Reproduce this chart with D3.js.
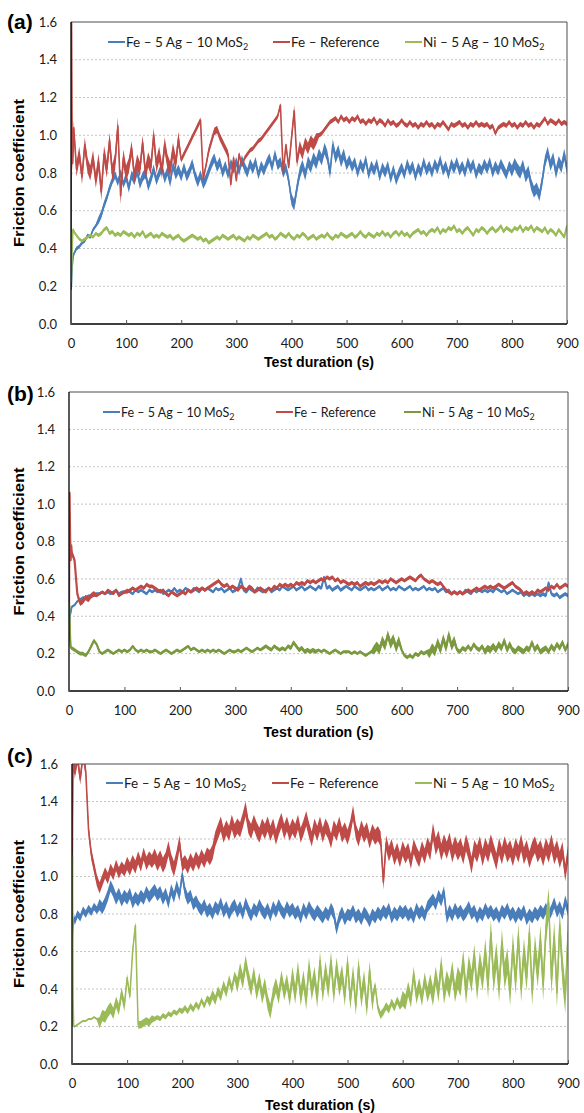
<!DOCTYPE html>
<html>
<head>
<meta charset="utf-8">
<title>Friction coefficient vs test duration</title>
<script src="https://cdn.jsdelivr.net/npm/d3@7"></script>
<style>
  body { margin: 0; background: #fff; }
  svg { display: block; }
  .tick text { font-family: Lato, "Open Sans", sans-serif; font-size: 13px; fill: #1a1a1a; }
  .legend text { font-family: Lato, "Open Sans", sans-serif; fill: #1a1a1a; }
  .panel-label { font-family: "Liberation Sans", Arial, sans-serif; font-weight: bold; font-size: 21px; }
  .axis-title { font-family: "Liberation Sans", Arial, sans-serif; font-weight: bold; font-size: 15px; }
</style>
</head>
<body>
<svg id="chart" width="584" height="1113"></svg>
<script>
// ---- data ----
// traces are sampled every 5 s from 5 s to 900 s; the *Head arrays hold the start-up transient (t < 5 s)
// *Spread = half-width of the noise band seen around each trace, per 50 s segment
const timeStep = 5;
const spreadStep = 50;
const xTicks = [0, 100, 200, 300, 400, 500, 600, 700, 800, 900];
const yTicks = [0, 0.2, 0.4, 0.6, 0.8, 1.0, 1.2, 1.4, 1.6];
const seriesNames = ["Fe – 5 Ag – 10 MoS", "Fe – Reference", "Ni – 5 Ag – 10 MoS"];
const seriesSubs = ["2", "", "2"];

// (a)
const aFeHead = [[0, 0.18], [1, 0.22], [2, 0.30], [3, 0.33], [4, 0.36]];
const aFe = [
  0.37,0.40,0.41,0.43,0.44,0.47,0.46,0.50,0.52,0.55,
  0.58,0.63,0.67,0.72,0.76,0.79,0.75,0.80,0.74,0.78,
  0.72,0.79,0.76,0.81,0.74,0.78,0.80,0.73,0.77,0.82,
  0.76,0.80,0.83,0.77,0.81,0.75,0.84,0.79,0.82,0.78,
  0.83,0.78,0.81,0.85,0.79,0.75,0.79,0.74,0.77,0.81,
  0.85,0.88,0.83,0.86,0.80,0.84,0.79,0.85,0.82,0.86,
  0.81,0.87,0.83,0.80,0.85,0.82,0.86,0.79,0.84,0.81,
  0.85,0.88,0.83,0.90,0.84,0.86,0.80,0.83,0.76,0.66,
  0.63,0.72,0.80,0.84,0.79,0.86,0.83,0.88,0.85,0.90,
  0.87,0.93,0.89,0.80,0.95,0.88,0.92,0.86,0.90,0.84,
  0.87,0.83,0.86,0.80,0.85,0.82,0.87,0.79,0.84,0.81,
  0.85,0.78,0.83,0.80,0.84,0.77,0.82,0.76,0.80,0.83,
  0.79,0.85,0.81,0.84,0.78,0.83,0.80,0.86,0.81,0.84,
  0.80,0.85,0.82,0.87,0.81,0.84,0.79,0.85,0.82,0.86,
  0.81,0.84,0.80,0.86,0.82,0.85,0.79,0.83,0.81,0.85,
  0.82,0.86,0.80,0.84,0.81,0.85,0.82,0.79,0.84,0.81,
  0.85,0.82,0.80,0.84,0.78,0.81,0.74,0.70,0.72,0.68,
  0.76,0.86,0.91,0.84,0.88,0.80,0.86,0.83,0.90,0.82
];
const aFeSpread = [0.01,0.02,0.025,0.025,0.025,0.025,0.025,0.025,0.03,0.03,0.025,0.025,0.025,0.025,0.025,0.025,0.03,0.03];
const aRefHead = [[0, 0.20], [1, 1.60], [2, 1.00], [3, 0.85], [4, 0.92]];
const aRef = [
  1.04,0.82,0.90,0.78,0.95,0.84,0.80,0.88,0.76,0.86,
  0.70,0.90,0.82,0.97,0.80,0.86,1.05,0.68,0.88,0.80,
  0.84,0.93,0.78,0.86,0.82,0.96,0.80,0.87,0.83,1.00,
  0.84,0.90,0.81,0.95,0.86,0.82,0.92,0.85,0.98,0.87,
  0.90,0.93,0.96,0.99,1.02,1.05,1.08,0.77,0.84,0.92,
  0.97,1.02,1.03,0.99,0.96,0.93,0.90,0.74,0.88,0.76,
  0.90,0.84,0.88,0.90,0.92,0.93,0.95,0.97,0.98,1.00,
  1.02,1.04,1.06,1.08,1.10,1.16,0.80,0.95,0.83,0.98,
  1.13,0.86,0.94,0.90,0.96,0.93,0.97,0.95,0.98,1.00,
  1.01,1.03,1.05,1.07,1.08,1.09,1.07,1.10,1.08,1.09,
  1.07,1.09,1.08,1.10,1.07,1.08,1.06,1.08,1.07,1.09,
  1.06,1.08,1.07,1.05,1.08,1.06,1.07,1.05,1.06,1.08,
  1.06,1.05,1.07,1.05,1.06,1.04,1.06,1.05,1.07,1.05,
  1.06,1.04,1.06,1.05,1.07,1.05,1.03,1.06,1.05,1.06,
  1.07,1.05,1.06,1.04,1.06,1.05,1.07,1.05,1.06,1.05,
  1.06,1.04,1.05,1.01,1.04,1.05,1.06,1.05,1.07,1.05,
  1.06,1.04,1.06,1.05,1.07,1.05,1.06,1.04,1.06,1.05,
  1.07,1.09,1.06,1.08,1.07,1.06,1.08,1.06,1.07,1.06
];
const aRefSpread = [0.04,0.045,0.04,0.04,0.015,0.02,0.012,0.012,0.03,0.012,0.012,0.012,0.012,0.012,0.012,0.012,0.012,0.012];
const aNiHead = [[0, 0.22], [1, 0.30], [2, 0.42], [3, 0.49], [4, 0.50]];
const aNi = [
  0.49,0.47,0.45,0.44,0.45,0.46,0.47,0.46,0.48,0.47,
  0.48,0.50,0.51,0.48,0.49,0.47,0.48,0.47,0.49,0.48,
  0.47,0.48,0.46,0.48,0.47,0.49,0.46,0.47,0.48,0.46,
  0.47,0.46,0.48,0.47,0.46,0.47,0.45,0.46,0.47,0.45,
  0.44,0.45,0.46,0.47,0.46,0.45,0.46,0.44,0.45,0.43,
  0.44,0.45,0.46,0.45,0.47,0.46,0.45,0.46,0.47,0.45,
  0.46,0.45,0.44,0.46,0.45,0.47,0.46,0.45,0.46,0.47,
  0.48,0.46,0.47,0.45,0.46,0.48,0.47,0.46,0.48,0.46,
  0.45,0.47,0.46,0.48,0.47,0.45,0.46,0.47,0.45,0.46,
  0.47,0.46,0.48,0.46,0.45,0.47,0.46,0.48,0.47,0.46,
  0.47,0.48,0.46,0.47,0.49,0.47,0.46,0.48,0.47,0.46,
  0.48,0.47,0.49,0.47,0.48,0.46,0.48,0.49,0.47,0.49,
  0.47,0.48,0.46,0.48,0.49,0.50,0.48,0.49,0.47,0.49,
  0.50,0.49,0.51,0.48,0.50,0.49,0.51,0.50,0.52,0.49,
  0.50,0.48,0.50,0.51,0.49,0.47,0.50,0.49,0.51,0.50,
  0.48,0.50,0.51,0.49,0.50,0.52,0.49,0.51,0.50,0.49,
  0.51,0.50,0.52,0.49,0.51,0.50,0.52,0.49,0.51,0.50,
  0.49,0.51,0.48,0.50,0.49,0.47,0.50,0.48,0.46,0.52
];
const aNiSpread = [0.008,0.01,0.01,0.01,0.01,0.01,0.01,0.01,0.01,0.01,0.01,0.01,0.01,0.01,0.01,0.01,0.01,0.01];

// (b)
const bFeHead = [[0, 0.33], [1, 0.38], [2, 0.41], [3, 0.42], [4, 0.44]];
const bFe = [
  0.45,0.46,0.48,0.49,0.50,0.50,0.51,0.51,0.52,0.52,
  0.52,0.53,0.52,0.53,0.52,0.53,0.54,0.52,0.53,0.53,
  0.54,0.53,0.52,0.54,0.53,0.54,0.53,0.52,0.54,0.53,
  0.54,0.53,0.54,0.52,0.53,0.54,0.53,0.55,0.53,0.54,
  0.53,0.55,0.54,0.53,0.55,0.54,0.53,0.55,0.54,0.55,
  0.54,0.53,0.55,0.54,0.55,0.53,0.54,0.55,0.53,0.54,
  0.55,0.60,0.54,0.53,0.55,0.54,0.53,0.55,0.54,0.53,
  0.54,0.55,0.53,0.54,0.55,0.54,0.56,0.55,0.54,0.55,
  0.56,0.54,0.55,0.56,0.54,0.55,0.56,0.55,0.54,0.56,
  0.55,0.61,0.55,0.56,0.54,0.55,0.56,0.54,0.55,0.56,
  0.55,0.54,0.56,0.55,0.54,0.55,0.56,0.54,0.55,0.54,
  0.55,0.56,0.54,0.55,0.56,0.54,0.55,0.54,0.56,0.55,
  0.54,0.55,0.56,0.54,0.55,0.54,0.55,0.56,0.54,0.55,
  0.54,0.55,0.53,0.54,0.55,0.53,0.54,0.52,0.53,0.52,
  0.53,0.52,0.54,0.53,0.52,0.54,0.53,0.54,0.53,0.54,
  0.53,0.54,0.53,0.55,0.54,0.53,0.54,0.52,0.53,0.54,
  0.53,0.52,0.53,0.51,0.52,0.51,0.52,0.51,0.52,0.51,
  0.52,0.51,0.58,0.52,0.51,0.52,0.50,0.51,0.52,0.51
];
const bFeSpread = [0.006,0.008,0.008,0.008,0.008,0.008,0.01,0.008,0.008,0.01,0.008,0.008,0.008,0.008,0.008,0.008,0.008,0.01];
const bRefHead = [[0, 0.45], [1, 1.06], [2, 0.82], [3, 0.70], [4, 0.78]];
const bRef = [
  0.74,0.70,0.52,0.47,0.48,0.50,0.49,0.51,0.52,0.51,
  0.52,0.53,0.52,0.54,0.53,0.52,0.54,0.51,0.52,0.53,
  0.53,0.54,0.55,0.54,0.55,0.56,0.55,0.57,0.56,0.56,
  0.55,0.54,0.53,0.54,0.52,0.51,0.53,0.52,0.51,0.52,
  0.53,0.52,0.54,0.53,0.54,0.55,0.54,0.55,0.54,0.55,
  0.56,0.57,0.58,0.59,0.57,0.56,0.57,0.55,0.56,0.55,
  0.54,0.56,0.55,0.54,0.56,0.55,0.53,0.54,0.55,0.54,
  0.53,0.55,0.54,0.56,0.55,0.57,0.56,0.57,0.56,0.57,
  0.56,0.58,0.57,0.58,0.57,0.59,0.58,0.59,0.58,0.59,
  0.60,0.59,0.61,0.60,0.61,0.59,0.60,0.58,0.59,0.58,
  0.57,0.58,0.57,0.58,0.56,0.57,0.58,0.57,0.58,0.57,
  0.58,0.59,0.58,0.59,0.58,0.60,0.59,0.58,0.59,0.60,
  0.59,0.60,0.61,0.60,0.59,0.61,0.62,0.60,0.59,0.58,
  0.59,0.58,0.57,0.58,0.56,0.54,0.53,0.52,0.53,0.52,
  0.53,0.52,0.53,0.54,0.53,0.54,0.55,0.54,0.55,0.56,
  0.55,0.56,0.55,0.56,0.57,0.56,0.55,0.56,0.57,0.58,
  0.56,0.55,0.54,0.52,0.53,0.52,0.53,0.52,0.54,0.53,
  0.54,0.55,0.54,0.56,0.55,0.57,0.55,0.56,0.57,0.56
];
const bRefSpread = [0.015,0.008,0.01,0.01,0.01,0.01,0.01,0.01,0.01,0.01,0.01,0.01,0.01,0.01,0.01,0.01,0.01,0.01];
const bNiHead = [[0, 0.47], [1, 0.40], [2, 0.28], [3, 0.24], [4, 0.23]];
const bNi = [
  0.23,0.22,0.21,0.20,0.20,0.19,0.21,0.24,0.27,0.25,
  0.21,0.20,0.21,0.22,0.21,0.20,0.21,0.22,0.21,0.22,
  0.21,0.22,0.24,0.22,0.21,0.22,0.21,0.22,0.21,0.21,
  0.22,0.21,0.20,0.21,0.22,0.21,0.20,0.21,0.22,0.21,
  0.22,0.23,0.24,0.22,0.23,0.22,0.21,0.22,0.21,0.22,
  0.21,0.22,0.21,0.22,0.21,0.20,0.21,0.22,0.21,0.21,
  0.22,0.21,0.22,0.23,0.22,0.21,0.22,0.23,0.22,0.23,
  0.24,0.23,0.22,0.24,0.23,0.22,0.23,0.22,0.24,0.23,
  0.26,0.24,0.22,0.23,0.21,0.22,0.21,0.22,0.21,0.22,
  0.21,0.22,0.21,0.20,0.21,0.22,0.21,0.20,0.21,0.21,
  0.21,0.20,0.21,0.20,0.21,0.20,0.19,0.20,0.21,0.22,
  0.24,0.22,0.27,0.24,0.30,0.25,0.28,0.23,0.27,0.22,
  0.19,0.18,0.19,0.18,0.20,0.19,0.21,0.20,0.21,0.20,
  0.23,0.21,0.26,0.22,0.28,0.23,0.30,0.24,0.27,0.22,
  0.21,0.23,0.22,0.24,0.22,0.25,0.23,0.22,0.24,0.21,
  0.23,0.22,0.24,0.22,0.25,0.23,0.27,0.22,0.25,0.22,
  0.21,0.23,0.22,0.21,0.23,0.22,0.26,0.22,0.24,0.21,
  0.22,0.23,0.21,0.24,0.22,0.25,0.23,0.26,0.22,0.25
];
const bNiSpread = [0.01,0.008,0.008,0.008,0.008,0.008,0.008,0.01,0.012,0.008,0.008,0.025,0.01,0.025,0.012,0.018,0.015,0.015];

// (c)
const cFeHead = [[0, 0.62], [1, 0.70], [2, 0.74], [3, 0.76], [4, 0.78]];
const cFe = [
  0.76,0.80,0.78,0.82,0.80,0.83,0.81,0.84,0.82,0.85,
  0.83,0.86,0.90,0.95,0.92,0.88,0.91,0.87,0.90,0.88,
  0.91,0.86,0.89,0.87,0.90,0.88,0.92,0.89,0.91,0.93,
  0.90,0.92,0.88,0.91,0.86,0.93,0.89,0.95,0.90,1.01,
  0.92,0.88,0.90,0.85,0.87,0.84,0.82,0.85,0.81,0.83,
  0.80,0.84,0.82,0.86,0.81,0.84,0.80,0.83,0.85,0.81,
  0.84,0.80,0.86,0.82,0.79,0.83,0.81,0.85,0.82,0.80,
  0.83,0.79,0.84,0.81,0.85,0.82,0.80,0.84,0.81,0.83,
  0.80,0.82,0.78,0.83,0.80,0.84,0.81,0.79,0.82,0.80,
  0.78,0.81,0.79,0.83,0.80,0.72,0.78,0.81,0.77,0.80,
  0.79,0.82,0.78,0.80,0.77,0.81,0.79,0.76,0.80,0.78,
  0.81,0.79,0.82,0.80,0.83,0.78,0.81,0.79,0.82,0.80,
  0.82,0.79,0.81,0.78,0.83,0.80,0.82,0.79,0.84,0.86,
  0.88,0.85,0.90,0.87,0.92,0.78,0.82,0.79,0.83,0.80,
  0.82,0.79,0.81,0.84,0.80,0.82,0.78,0.81,0.79,0.83,
  0.80,0.82,0.79,0.81,0.78,0.82,0.80,0.83,0.79,0.81,
  0.78,0.81,0.79,0.82,0.77,0.80,0.78,0.81,0.79,0.82,
  0.80,0.83,0.79,0.82,0.86,0.81,0.84,0.80,0.87,0.82
];
const cFeSpread = [0.02,0.03,0.03,0.03,0.03,0.03,0.03,0.03,0.03,0.03,0.03,0.03,0.03,0.03,0.03,0.03,0.03,0.03];
const cRefHead = [[0, 0.70], [1, 1.30], [2, 1.62], [3, 1.58], [4, 1.60]];
const cRef = [
  1.55,1.63,1.52,1.65,1.56,1.25,1.12,1.05,0.98,0.94,
  0.98,1.02,0.99,1.04,1.01,1.06,1.02,1.05,1.03,1.07,
  1.04,1.08,1.05,1.10,1.06,1.12,1.07,1.10,1.08,1.11,
  1.07,1.10,1.06,1.09,1.15,1.08,1.04,1.10,1.18,1.06,
  1.08,1.05,1.09,1.06,1.10,1.07,1.11,1.08,1.12,1.10,
  1.13,1.20,1.24,1.28,1.22,1.26,1.23,1.29,1.24,1.27,
  1.25,1.30,1.36,1.27,1.24,1.29,1.25,1.22,1.27,1.24,
  1.28,1.23,1.27,1.21,1.26,1.30,1.24,1.28,1.23,1.27,
  1.24,1.29,1.22,1.26,1.31,1.25,1.20,1.27,1.23,1.28,
  1.22,1.27,1.24,1.19,1.26,1.23,1.28,1.22,1.25,1.21,
  1.26,1.34,1.24,1.20,1.26,1.22,1.25,1.19,1.24,1.21,
  1.23,1.20,0.97,1.18,1.12,1.16,1.10,1.14,1.09,1.15,
  1.11,1.14,1.08,1.16,1.12,1.09,1.15,1.11,1.17,1.13,
  1.24,1.16,1.20,1.13,1.18,1.14,1.19,1.12,1.17,1.13,
  1.16,1.11,1.18,1.13,1.06,1.15,1.12,1.17,1.10,1.16,
  1.12,1.18,1.13,1.08,1.16,1.11,1.17,1.12,1.15,1.10,
  1.16,1.12,1.18,1.11,1.15,1.09,1.14,1.17,1.12,1.15,
  1.10,1.16,1.12,1.18,1.11,1.15,1.09,1.14,1.02,1.12
];
const cRefSpread = [0.03,0.03,0.035,0.04,0.035,0.04,0.04,0.04,0.04,0.04,0.04,0.04,0.04,0.045,0.045,0.045,0.045,0.045];
const cNiHead = [[0, 0.20], [1, 1.11], [2, 0.35], [3, 0.21], [4, 0.20]];
const cNi = [
  0.20,0.21,0.22,0.23,0.23,0.24,0.24,0.25,0.24,0.22,
  0.26,0.25,0.28,0.30,0.27,0.33,0.29,0.38,0.31,0.46,
  0.36,0.60,0.74,0.21,0.21,0.22,0.23,0.22,0.24,0.24,
  0.25,0.24,0.26,0.25,0.27,0.26,0.28,0.27,0.29,0.28,
  0.30,0.28,0.31,0.29,0.32,0.30,0.34,0.31,0.35,0.33,
  0.37,0.34,0.39,0.36,0.42,0.38,0.45,0.40,0.47,0.42,
  0.50,0.44,0.54,0.46,0.40,0.48,0.38,0.45,0.36,0.42,
  0.33,0.28,0.37,0.42,0.36,0.46,0.38,0.44,0.35,0.47,
  0.37,0.50,0.36,0.45,0.34,0.52,0.39,0.47,0.35,0.55,
  0.38,0.50,0.40,0.55,0.37,0.52,0.41,0.48,0.36,0.54,
  0.34,0.48,0.31,0.52,0.35,0.45,0.30,0.50,0.33,0.42,
  0.30,0.26,0.28,0.31,0.29,0.33,0.30,0.34,0.31,0.35,
  0.33,0.40,0.34,0.48,0.36,0.42,0.35,0.45,0.37,0.43,
  0.36,0.47,0.38,0.53,0.37,0.45,0.40,0.50,0.38,0.46,
  0.42,0.55,0.38,0.52,0.44,0.58,0.40,0.54,0.45,0.60,
  0.42,0.70,0.45,0.58,0.40,0.65,0.47,0.55,0.38,0.63,
  0.44,0.68,0.40,0.60,0.46,0.70,0.38,0.62,0.48,0.66,
  0.42,0.72,0.86,0.45,0.68,0.38,0.74,0.50,0.35,0.70
];
const cNiSpread = [0.005,0.03,0.02,0.012,0.015,0.025,0.04,0.04,0.05,0.05,0.05,0.02,0.04,0.05,0.06,0.07,0.07,0.08];

// ---- layout ----
const blue = "#4a7ebb", red = "#be4b48", green = "#9bbb59", darkGreen = "#7b9a40";

const panels = [
  { label: "(a)", labelY: 29, x0: 71, x1: 567, y0: 22, y1: 324, titleY: 367,
    legendY: 42, legendX: [108, 273, 405], legendSize: 13.5, width: [1.6, 1.6, 2.0],
    colors: [blue, red, green],
    series: [[aFeHead, aFe, aFeSpread], [aRefHead, aRef, aRefSpread], [aNiHead, aNi, aNiSpread]] },
  { label: "(b)", labelY: 401, x0: 69, x1: 568, y0: 392, y1: 691, titleY: 737,
    legendY: 412, legendX: [103, 276, 404], legendSize: 12.5, width: [2.0, 2.2, 2.2],
    colors: [blue, red, darkGreen],
    series: [[bFeHead, bFe, bFeSpread], [bRefHead, bRef, bRefSpread], [bNiHead, bNi, bNiSpread]] },
  { label: "(c)", labelY: 763, x0: 72, x1: 568, y0: 764, y1: 1064, titleY: 1110,
    legendY: 783, legendX: [106, 272, 415], legendSize: 13.5, width: [1.6, 1.6, 1.5],
    colors: [blue, red, green],
    series: [[cFeHead, cFe, cFeSpread], [cRefHead, cRef, cRefSpread], [cNiHead, cNi, cNiSpread]] }
];

const svg = d3.select("#chart");
svg.append("rect").attr("width", 584).attr("height", 1113).attr("fill", "#fff");
const defs = svg.append("defs");

function toPoints(head, values, spread) {
  const pts = head.concat(values.map((v, i) => [timeStep * (i + 1), v]));
  return pts.map(([t, v]) => {
    const hw = spread[Math.min(spread.length - 1, Math.floor(t / spreadStep))];
    return { t, v, hw };
  });
}

panels.forEach((p, k) => {
  const x = d3.scaleLinear().domain([0, 900]).range([p.x0, p.x1]);
  const y = d3.scaleLinear().domain([0, 1.6]).range([p.y1, p.y0]);
  const g = svg.append("g");

  // dotted gridlines
  g.selectAll("line.grid")
    .data(yTicks.filter(v => v > 0 && v < 1.6))
    .join("line")
    .attr("class", "grid")
    .attr("x1", p.x0).attr("x2", p.x1)
    .attr("y1", d => y(d)).attr("y2", d => y(d))
    .attr("stroke", "#c4c4c4")
    .attr("stroke-dasharray", "2,2");

  defs.append("clipPath").attr("id", "clip" + k)
    .append("rect")
    .attr("x", p.x0).attr("y", p.y0)
    .attr("width", p.x1 - p.x0).attr("height", p.y1 - p.y0);

  const line = d3.line().x(d => x(d.t)).y(d => y(d.v));
  const band = d3.area().x(d => x(d.t)).y0(d => y(d.v - d.hw)).y1(d => y(d.v + d.hw));
  const traces = g.append("g").attr("clip-path", `url(#clip${k})`);
  p.series.forEach((s, i) => {
    const pts = toPoints(s[0], s[1], s[2]);
    traces.append("path")
      .datum(pts)
      .attr("d", band)
      .attr("fill", p.colors[i]);
    traces.append("path")
      .datum(pts)
      .attr("d", line)
      .attr("fill", "none")
      .attr("stroke", p.colors[i])
      .attr("stroke-width", p.width[i])
      .attr("stroke-linejoin", "round");
  });

  // frame
  g.append("path")
    .attr("d", `M${p.x0},${p.y0}H${p.x1}V${p.y1}`)
    .attr("fill", "none").attr("stroke", "#4d4d4d").attr("stroke-width", 1);
  g.append("path")
    .attr("d", `M${p.x0},${p.y0}V${p.y1}H${p.x1}`)
    .attr("fill", "none").attr("stroke", "#000").attr("stroke-width", 1.3);

  // axes
  const xa = g.append("g")
    .attr("transform", `translate(0,${p.y1})`)
    .call(d3.axisBottom(x).tickValues(xTicks).tickSize(-4).tickPadding(14.5));
  xa.select(".domain").remove();
  xa.selectAll(".tick line").attr("stroke", "#555");

  const ya = g.append("g")
    .attr("transform", `translate(${p.x0},0)`)
    .call(d3.axisLeft(y).tickValues(yTicks).tickFormat(d3.format(".1f")).tickSize(0).tickPadding(14));
  ya.select(".domain").remove();

  // titles
  svg.append("text").attr("class", "panel-label")
    .attr("x", 7).attr("y", p.labelY).text(p.label);

  svg.append("text").attr("class", "axis-title")
    .attr("x", (p.x0 + p.x1) / 2).attr("y", p.titleY)
    .attr("text-anchor", "middle")
    .attr("textLength", 110).attr("lengthAdjust", "spacingAndGlyphs")
    .text("Test duration (s)");

  svg.append("text").attr("class", "axis-title")
    .attr("transform", `translate(24,${(p.y0 + p.y1) / 2}) rotate(-90)`)
    .attr("text-anchor", "middle")
    .attr("textLength", 148).attr("lengthAdjust", "spacingAndGlyphs")
    .text("Friction coefficient");

  // legend
  const lg = svg.append("g").attr("class", "legend");
  seriesNames.forEach((name, i) => {
    const lx = p.legendX[i];
    lg.append("line")
      .attr("x1", lx).attr("x2", lx + 17)
      .attr("y1", p.legendY).attr("y2", p.legendY)
      .attr("stroke", p.colors[i]).attr("stroke-width", 2);
    const t = lg.append("text")
      .attr("x", lx + 18).attr("y", p.legendY + 4.5)
      .style("font-size", p.legendSize + "px");
    t.append("tspan").text(name);
    if (seriesSubs[i]) {
      t.append("tspan").attr("dy", 3.5).style("font-size", "9px").text(seriesSubs[i]);
    }
  });
});
</script>
</body>
</html>
